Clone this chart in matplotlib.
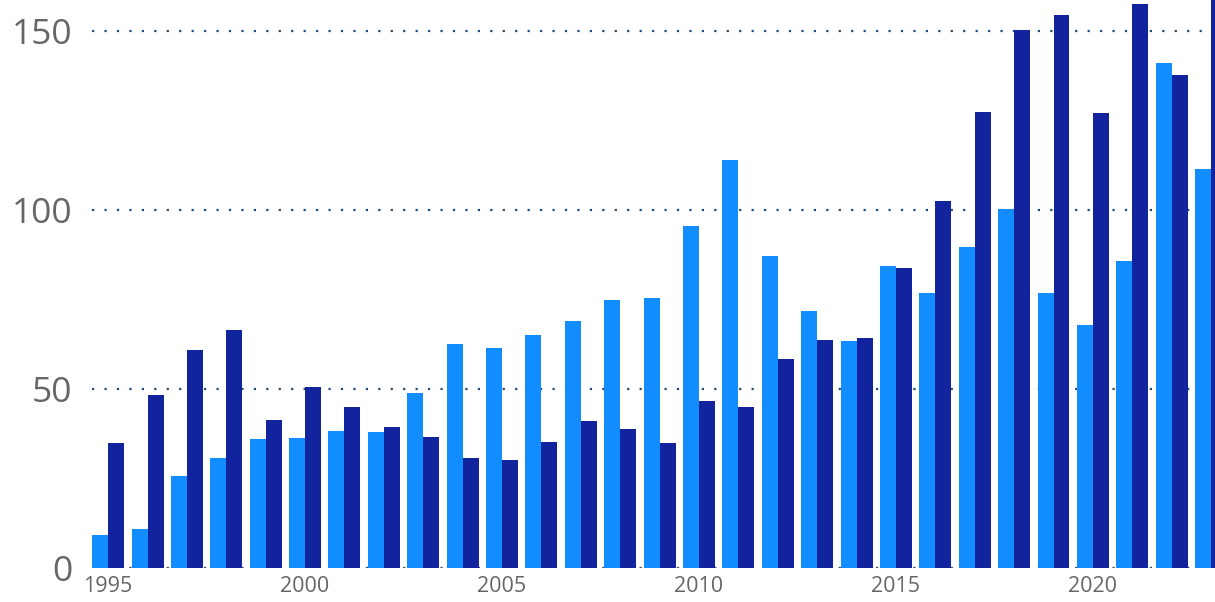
import matplotlib
matplotlib.use("Agg")
import matplotlib.pyplot as plt
import numpy as np

# Dados
anos = list(range(1995, 2024))
serie_clara = [9.2, 10.9, 25.7, 30.7, 36.0, 36.3, 38.3, 38.0, 48.9, 62.6,
               61.5, 65.1, 69.0, 74.9, 75.4, 95.5, 114.0, 87.2, 71.8, 63.4,
               84.4, 76.8, 89.7, 100.3, 76.8, 67.9, 85.8, 141.1, 111.5]
serie_escura = [34.9, 48.3, 60.9, 66.5, 41.3, 50.6, 45.0, 39.4, 36.6, 30.7,
                30.2, 35.2, 41.1, 38.8, 34.9, 46.6, 45.0, 58.4, 63.7, 64.2,
                83.8, 102.5, 127.4, 150.3, 154.7, 127.1, 157.8, 137.7, 165.0]
ticks_y = [0, 50, 100, 150]
ticks_x = [1995, 2000, 2005, 2010, 2015, 2020]

plt.rcParams['font.family'] = ['Open Sans', 'DejaVu Sans']

fig = plt.figure(figsize=(12.15, 6.02), dpi=100)
ax = fig.add_axes([92 / 1215, 1 - 568 / 602, 1 - 92 / 1215, 568 / 602])

x = np.array(anos)
largura = 0.406
ax.bar(x - largura / 2, serie_clara, width=largura, color='#118DFF', zorder=2)
ax.bar(x + largura / 2, serie_escura, width=largura, color='#12239E', zorder=2)

ax.set_ylim(0, 158.8)
ax.set_xlim(1995 - 0.41, 2023.1)
ax.set_yticks(ticks_y)
ax.set_xticks(ticks_x)

ax.yaxis.grid(True, color='#1F4E79', linestyle=(0, (1, 4.6)), linewidth=1.6, zorder=0)
ax.set_axisbelow(True)
for lado in ax.spines.values():
    lado.set_visible(False)

ax.tick_params(axis='y', length=0, pad=14, labelsize=25.5, labelcolor='#666666')
ax.tick_params(axis='x', length=0, pad=6, labelsize=15.5, labelcolor='#666666')

fig.savefig('out.png', dpi=100)
